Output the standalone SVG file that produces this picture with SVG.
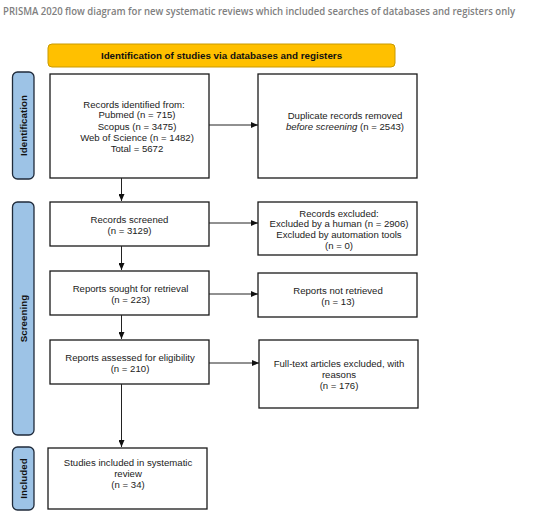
<svg xmlns="http://www.w3.org/2000/svg" width="550" height="515" viewBox="0 0 550 515">
<style>
.box{fill:#fff;stroke:#1a1a1a;stroke-width:1.3}
.side{fill:#9dc3e6;stroke:#1f2a3a;stroke-width:1.3}
.t{font-family:"Liberation Sans",Arial,sans-serif;font-size:9.6px;fill:#222;text-anchor:middle}
.sl{font-family:"Liberation Sans",Arial,sans-serif;font-size:9.8px;font-weight:bold;fill:#111;text-anchor:middle}
.c{stroke:#222;stroke-width:1;fill:none}
</style>
<defs>
<marker id="ah" markerWidth="7" markerHeight="6" refX="7" refY="3" orient="auto" markerUnits="userSpaceOnUse">
<path d="M0,0 L7,3 L0,6 Z" fill="#111"/>
</marker>
</defs>
<rect width="550" height="515" fill="#fff"/>
<text x="3" y="15" font-family="'Open Sans',sans-serif" font-size="10" font-weight="600" fill="#808080" textLength="512" lengthAdjust="spacingAndGlyphs">PRISMA 2020 flow diagram for new systematic reviews which included searches of databases and registers only</text>

<g id="banner">
<rect x="48" y="44" width="347" height="23" rx="4" fill="#ffc000" stroke="#c99a00" stroke-width="1"/>
<text x="221.5" y="59" class="sl" font-size="9px">Identification of studies via databases and registers</text>
</g>

<g id="side-identification">
<rect class="side" x="12.5" y="72" width="21.5" height="107" rx="5"/>
<text class="sl" transform="translate(26.5,125.5) rotate(-90)">Identification</text>
</g>
<g id="side-screening">
<rect class="side" x="12.5" y="202" width="21.5" height="233" rx="5"/>
<text class="sl" transform="translate(26.5,318.5) rotate(-90)">Screening</text>
</g>
<g id="side-included">
<rect class="side" x="12.5" y="447" width="21.5" height="63" rx="5"/>
<text class="sl" transform="translate(26.5,478.5) rotate(-90)">Included</text>
</g>

<g id="records-identified">
<rect class="box" x="50" y="74" width="159" height="104"/>
<text class="t" x="134" y="107.5">Records identified from:</text>
<text class="t" x="137" y="118">Pubmed (n = 715)</text>
<text class="t" x="137" y="129.5">Scopus (n = 3475)</text>
<text class="t" x="137" y="140.5">Web of Science (n = 1482)</text>
<text class="t" x="137" y="151.5">Total = 5672</text>
</g>
<g id="duplicates">
<rect class="box" x="258" y="74" width="159" height="104"/>
<text class="t" x="345" y="118.5">Duplicate records removed</text>
<text class="t" x="345" y="129.5"><tspan font-style="italic">before screening</tspan> (n = 2543)</text>
</g>
<g id="records-screened">
<rect class="box" x="50" y="202" width="159" height="44"/>
<text class="t" x="129.5" y="222.5">Records screened</text>
<text class="t" x="129.5" y="234">(n = 3129)</text>
</g>
<g id="records-excluded">
<rect class="box" x="258" y="202" width="159" height="53"/>
<text class="t" x="339" y="216.5">Records excluded:</text>
<text class="t" x="339" y="227">Excluded by a human (n = 2906)</text>
<text class="t" x="339" y="237.5">Excluded by automation tools</text>
<text class="t" x="339" y="248.5">(n = 0)</text>
</g>
<g id="reports-sought">
<rect class="box" x="50" y="271" width="159" height="44"/>
<text class="t" x="130.5" y="291.5">Reports sought for retrieval</text>
<text class="t" x="130.5" y="302.5">(n = 223)</text>
</g>
<g id="reports-not-retrieved">
<rect class="box" x="258" y="273" width="159" height="44"/>
<text class="t" x="338" y="293.5">Reports not retrieved</text>
<text class="t" x="338" y="304.5">(n = 13)</text>
</g>
<g id="reports-assessed">
<rect class="box" x="50" y="340" width="159" height="44"/>
<text class="t" x="130" y="360.5">Reports assessed for eligibility</text>
<text class="t" x="130" y="371.5">(n = 210)</text>
</g>
<g id="fulltext-excluded">
<rect class="box" x="259" y="340" width="159" height="68"/>
<text class="t" x="339" y="366.5">Full-text articles excluded, with</text>
<text class="t" x="339" y="377.5">reasons</text>
<text class="t" x="339" y="388.5">(n =  176)</text>
</g>
<g id="studies-included">
<rect class="box" x="48" y="448" width="159" height="61"/>
<text class="t" x="128" y="465.5">Studies included in systematic</text>
<text class="t" x="128" y="476.5">review</text>
<text class="t" x="128" y="488">(n = 34)</text>
</g>

<g id="connectors">
<line class="c" x1="209" y1="125" x2="258" y2="125" marker-end="url(#ah)"/>
<line class="c" x1="121.5" y1="178" x2="121.5" y2="201" marker-end="url(#ah)"/>
<line class="c" x1="209" y1="223" x2="258" y2="223" marker-end="url(#ah)"/>
<line class="c" x1="121.5" y1="246" x2="121.5" y2="270" marker-end="url(#ah)"/>
<line class="c" x1="209" y1="294" x2="258" y2="294" marker-end="url(#ah)"/>
<line class="c" x1="121.5" y1="315" x2="121.5" y2="339" marker-end="url(#ah)"/>
<line class="c" x1="209" y1="363" x2="259" y2="363" marker-end="url(#ah)"/>
<line class="c" x1="121.5" y1="384" x2="121.5" y2="447" marker-end="url(#ah)"/>
</g>
</svg>
